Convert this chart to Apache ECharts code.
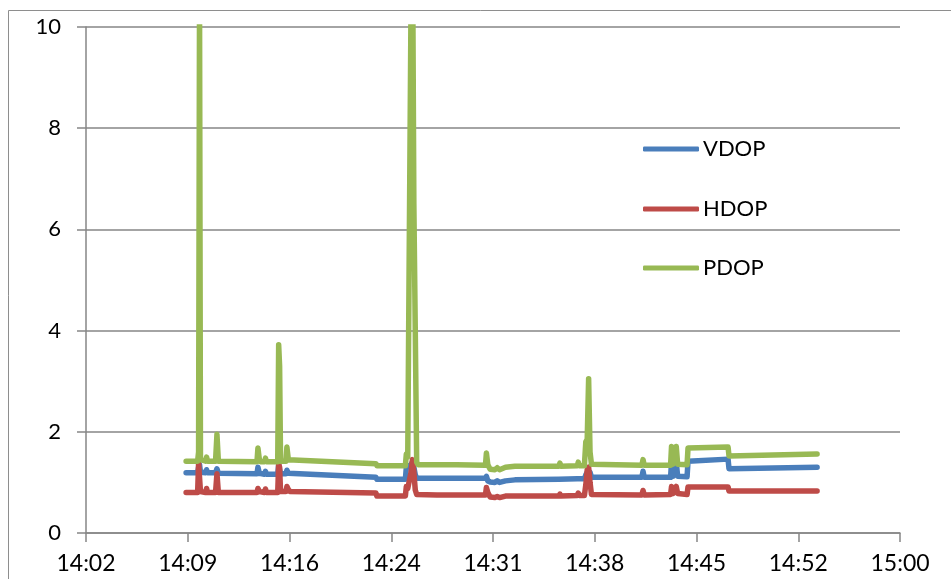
<!DOCTYPE html>
<html>
<head>
<meta charset="utf-8">
<script src="https://cdn.jsdelivr.net/npm/echarts@6/dist/echarts.min.js"></script>
<style>
html,body{margin:0;padding:0;background:#fff;}
#c{width:951px;height:579px;}
</style>
</head>
<body>
<div id="c"></div>
<script>
// Data (time of day, DOP values)
const times = [
'14:09:29','14:10:18','14:10:22','14:10:26','14:10:30','14:10:34','14:10:52','14:10:56','14:11:00','14:11:34',
'14:11:40','14:11:46','14:14:30','14:14:34','14:14:40','14:14:46','14:15:02','14:15:06','14:15:10','14:15:58',
'14:16:02','14:16:06','14:16:10','14:16:33','14:16:37','14:16:43','14:16:50','14:22:55','14:22:59','14:25:00',
'14:25:04','14:25:10','14:25:24','14:25:30','14:25:36','14:25:42','14:25:48','14:25:54','14:27:14','14:27:18',
'14:27:22','14:27:58','14:28:02','14:28:06','14:28:38','14:28:42','14:28:46','14:30:40','14:30:44','14:30:50',
'14:31:00','14:31:20','14:31:30','14:31:40','14:32:05','14:32:45','14:35:52','14:35:56','14:36:00','14:37:10',
'14:37:14','14:37:18','14:37:40','14:37:46','14:37:52','14:37:58','14:38:04','14:38:10','14:41:44','14:41:49',
'14:41:54','14:43:46','14:43:50','14:43:56','14:44:04','14:44:10','14:44:16','14:44:56','14:45:00','14:47:50',
'14:47:54','14:54:08'
];
const vdop = [
1.19,1.19,1.30,1.35,1.20,1.19,1.19,1.25,1.19,1.19,
1.27,1.18,1.17,1.30,1.18,1.16,1.16,1.22,1.16,1.16,
1.35,1.33,1.17,1.17,1.24,1.18,1.17,1.10,1.06,1.06,
1.30,1.30,1.35,1.40,1.30,1.15,1.08,1.08,1.08,1.11,
1.08,1.08,1.11,1.08,1.08,1.11,1.08,1.08,1.12,1.03,
1.01,1.00,1.03,1.00,1.03,1.05,1.06,1.08,1.06,1.07,
1.10,1.07,1.07,1.15,1.20,1.22,1.20,1.10,1.10,1.22,
1.10,1.10,1.40,1.12,1.12,1.40,1.12,1.11,1.42,1.46,
1.27,1.30
];
const hdop = [
0.80,0.80,1.38,1.38,0.82,0.80,0.80,0.88,0.80,0.80,
1.17,0.80,0.80,0.88,0.82,0.80,0.80,0.87,0.80,0.80,
1.36,1.30,0.82,0.82,0.92,0.86,0.82,0.79,0.73,0.73,
0.92,0.88,1.20,1.45,1.20,0.85,0.76,0.75,0.75,0.78,
0.75,0.75,0.78,0.75,0.75,0.78,0.75,0.75,0.90,0.80,
0.71,0.70,0.72,0.70,0.73,0.73,0.73,0.77,0.73,0.74,
0.79,0.74,0.74,0.95,1.25,1.30,1.00,0.76,0.75,0.84,
0.75,0.76,0.92,0.78,0.78,0.92,0.78,0.76,0.91,0.91,
0.83,0.83
];
const pdop = [
1.42,1.42,1.60,10.6,1.45,1.42,1.42,1.50,1.42,1.42,
1.95,1.42,1.41,1.68,1.45,1.41,1.41,1.48,1.41,1.41,
3.72,3.30,1.42,1.42,1.70,1.45,1.42,1.37,1.33,1.33,
1.56,1.50,10.5,12.0,6.5,4.0,1.40,1.35,1.35,1.38,
1.35,1.35,1.38,1.35,1.35,1.38,1.35,1.34,1.58,1.35,
1.26,1.25,1.29,1.25,1.30,1.32,1.32,1.38,1.32,1.33,
1.40,1.33,1.33,1.80,1.85,3.05,1.60,1.36,1.34,1.45,
1.34,1.34,1.71,1.36,1.36,1.71,1.36,1.35,1.68,1.70,
1.52,1.56
];
const seriesNames = ['VDOP','HDOP','PDOP'];
const yTicks = [0,2,4,6,8,10];

function toSec(s){const p=s.split(':').map(Number);return p[0]*3600+p[1]*60+p[2];}
function pairs(vals){return times.map((t,i)=>[toSec(t),vals[i]]);}
function fmt(v){const m=Math.floor(v/60+1e-6);const h=Math.floor(m/60);const mm=m%60;return h+':'+(mm<10?'0':'')+mm;}

const colors=['#4a7ebb','#be4b48','#98b954'];
const font='Lato';
const chart=echarts.init(document.getElementById('c'),null,{renderer:'canvas'});
const legendTops=[149,209,268];
chart.setOption({
  animation:false,
  backgroundColor:'#fff',
  graphic:[{type:'rect',shape:{x:8.5,y:10.5,width:1200,height:1200},style:{fill:'none',stroke:'#8e8e8e',lineWidth:1},silent:true,z:-1}],
  grid:{left:86,top:27,right:51,bottom:46,containLabel:false},
  legend:seriesNames.map((n,i)=>({
    data:[n],left:643,top:legendTops[i]-12,padding:0,itemWidth:56,itemHeight:5,itemGap:0,
    icon:'roundRect',
    textStyle:{fontFamily:font,fontSize:22,color:'#000',lineHeight:24,padding:[0,0,0,-1]},
    selectedMode:false
  })),
  xAxis:{type:'value',min:50544,max:54000,interval:432,
    axisLine:{show:true,lineStyle:{color:'#868686',width:1.5}},
    axisTick:{show:true,length:9,lineStyle:{color:'#868686',width:1.5}},
    splitLine:{show:false},
    axisLabel:{formatter:fmt,fontFamily:font,fontSize:23,color:'#000',margin:19}},
  yAxis:{type:'value',min:yTicks[0],max:yTicks[yTicks.length-1],interval:2,
    axisLine:{show:true,lineStyle:{color:'#868686',width:1.5}},
    axisTick:{show:true,length:9,lineStyle:{color:'#868686',width:1.5}},
    splitLine:{show:true,lineStyle:{color:'#868686',width:1.5}},
    axisLabel:{fontFamily:font,fontSize:22,color:'#000',margin:25}},
  series:[vdop,hdop,pdop].map((d,i)=>({
    name:seriesNames[i],type:'line',data:pairs(d),showSymbol:false,symbol:'none',
    lineStyle:{color:colors[i],width:5.5,cap:'round',join:'round'},itemStyle:{color:colors[i]},
    clip:true
  }))
});
</script>
</body>
</html>
